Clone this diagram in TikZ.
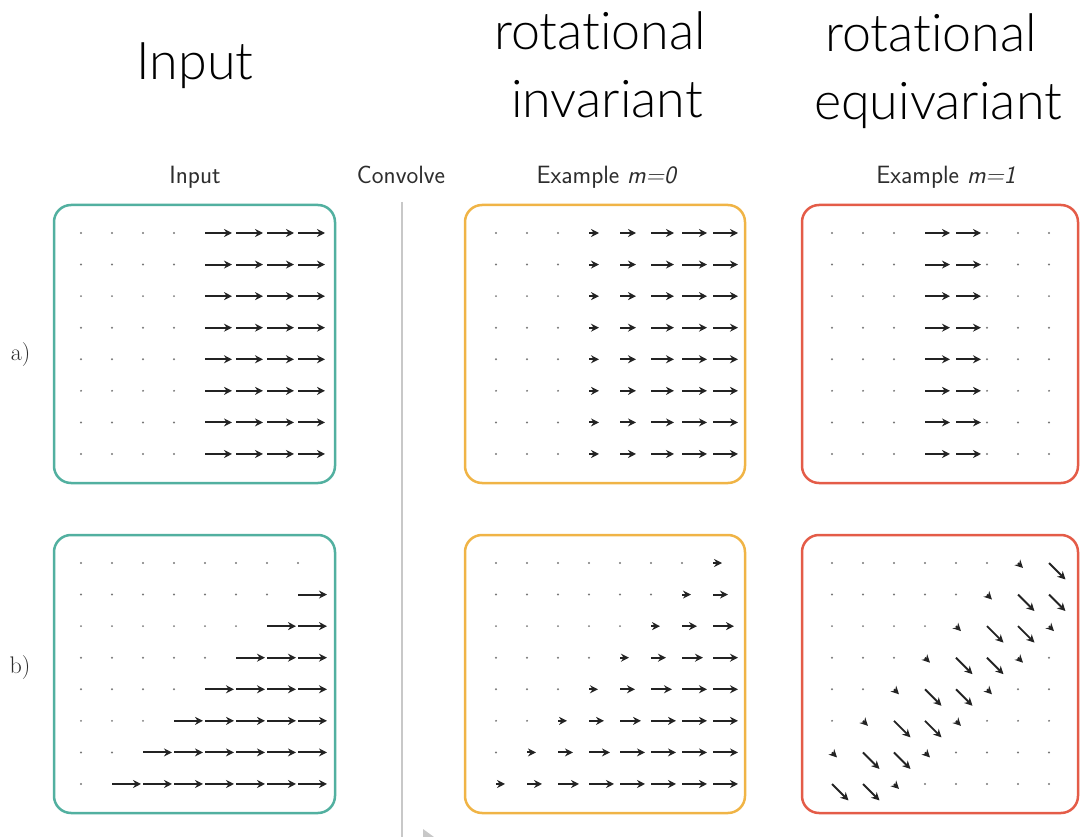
\documentclass[tikz,border=0pt]{standalone}
\usepackage{fontspec}
\newfontfamily\bigfont[Ligatures={NoCommon}]{Lato Light}
\usetikzlibrary{arrows.meta}
\definecolor{boxteal}{RGB}{82,176,160}
\definecolor{boxorange}{RGB}{240,180,70}
\definecolor{boxred}{RGB}{228,92,72}
\definecolor{vecc}{RGB}{35,35,35}
\definecolor{dotc}{RGB}{120,120,120}
\definecolor{sepc}{RGB}{200,200,200}
\definecolor{txtc}{RGB}{45,45,45}
\tikzset{
  vec/.style={draw=vecc, line width=1.9pt, -{Stealth[length=8pt,width=8pt]}},
  gdot/.style={fill=dotc},
  panel/.style={rounded corners=17pt, line width=2.5pt},
  bigtitle/.style={anchor=base, font=\bigfont\fontsize{52}{60}\selectfont},
  hdr/.style={anchor=base, text=txtc, font=\sffamily\fontsize{25}{30}\selectfont},
  rowlab/.style={anchor=east, text=txtc, font=\rmfamily\fontsize{24}{28}\selectfont}
}
\begin{document}
\begin{tikzpicture}[x=1pt,y=-1pt]
\useasboundingbox (0,0) rectangle (1080,837);
% big titles
\node[bigtitle] (tInput) at (195,80) {Input};
\node[bigtitle] (tRot1) at (600,50) {rotat\kern0pt ional};
\node[bigtitle] (tInv) at (607,118) {invariant};
\node[bigtitle] (tRot2) at (931,52) {rotat\kern0pt ional};
\node[bigtitle] (tEqu) at (938,120) {equivariant};
% headers
\node[hdr] (hInput) at (195,184) {Input};
\node[hdr] (hConv) at (401,184) {Convolve};
\node[hdr] (hM0) at (607,184) {Example \textit{m=0}};
\node[hdr] (hM1) at (946,184) {Example \textit{m=1}};
% row labels
\node[rowlab] (la) at (34,355) {a)};
\node[rowlab] (lb) at (34,668) {b)};
% separator
\draw[sepc, line width=2pt] (402,202) -- (402,837);
\fill[sepc] (423,829) -- (434,837) -- (423,837) -- cycle;
% panels
\draw[panel, boxteal] (54,205) rectangle (335,483);
\draw[panel, boxorange] (465,205) rectangle (745,483);
\draw[panel, boxred] (802,205) rectangle (1078,483);
\draw[panel, boxteal] (54,535) rectangle (335,813);
\draw[panel, boxorange] (465,535) rectangle (745,813);
\draw[panel, boxred] (802,535) rectangle (1078,813);
% ---- a) input
\foreach \r in {0,...,7}{
  \foreach \c in {0,...,7}{
    \pgfmathsetmacro\x{81+31*\c}
    \pgfmathsetmacro\y{233+31.57*\r}
    \ifnum\c<4 \fill[gdot] (\x,\y) circle (1.1pt);
    \else \draw[vec] (\x,\y) -- ++(27,0); \fi
  }
}
% ---- a) m=0
\foreach \r in {0,...,7}{
  \foreach \c in {0,...,7}{
    \pgfmathsetmacro\x{496+31*\c}
    \pgfmathsetmacro\y{233+31.57*\r}
    \pgfmathsetmacro\L{\c==3 ? 10 : (\c==4 ? 16 : (\c==5 ? 23 : 25))}
    \ifnum\c<3 \fill[gdot] (\x,\y) circle (1.1pt);
    \else \draw[vec] (\x,\y) -- ++(\L,0); \fi
  }
}
% ---- a) m=1
\foreach \r in {0,...,7}{
  \foreach \c in {0,...,7}{
    \pgfmathsetmacro\x{832+31*\c}
    \pgfmathsetmacro\y{233+31.57*\r}
    \pgfmathtruncatemacro\k{(\c==3 || \c==4) ? 1 : 0}
    \ifnum\k=1 \draw[vec] (\x,\y) -- ++(25,0);
    \else \fill[gdot] (\x,\y) circle (1.1pt); \fi
  }
}
% ---- b) input
\foreach \r in {0,...,7}{
  \foreach \c in {0,...,7}{
    \pgfmathsetmacro\x{81+31*\c}
    \pgfmathsetmacro\y{563+31.57*\r}
    \pgfmathtruncatemacro\d{\c+\r-8}
    \ifnum\d<0 \fill[gdot] (\x,\y) circle (1.1pt);
    \else \draw[vec] (\x,\y) -- ++(29,0); \fi
  }
}
% ---- b) m=0
\foreach \r in {0,...,7}{
  \foreach \c in {0,...,7}{
    \pgfmathsetmacro\x{496+31*\c}
    \pgfmathsetmacro\y{563+31.57*\r}
    \pgfmathtruncatemacro\d{\c+\r-7}
    \pgfmathsetmacro\L{\d==0 ? 9 : (\d==1 ? 15 : (\d==2 ? 21 : 25))}
    \ifnum\d<0 \fill[gdot] (\x,\y) circle (1.1pt);
    \else \draw[vec] (\x,\y) -- ++(\L,0); \fi
  }
}
% ---- b) m=1
\foreach \r in {0,...,7}{
  \foreach \c in {0,...,7}{
    \pgfmathsetmacro\x{832+31*\c}
    \pgfmathsetmacro\y{563+31.57*\r}
    \pgfmathtruncatemacro\e{\c+\r-6}
    \ifnum\e=0 \draw[vec] (\x,\y) -- ++(5,5);
    \else\ifnum\e=3 \draw[vec] (\x,\y) -- ++(5,5);
    \else\ifnum\e=1 \draw[vec] (\x,\y) -- ++(16.5,16.5);
    \else\ifnum\e=2 \draw[vec] (\x,\y) -- ++(16.5,16.5);
    \else \fill[gdot] (\x,\y) circle (1.1pt);
    \fi\fi\fi\fi
  }
}
\end{tikzpicture}
\end{document}
